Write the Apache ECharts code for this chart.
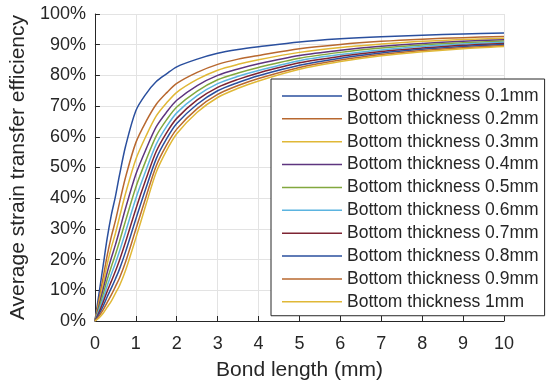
<!DOCTYPE html>
<html>
<head>
<meta charset="utf-8">
<script src="https://cdn.jsdelivr.net/npm/echarts@6/dist/echarts.min.js"></script>
<style>
html,body{margin:0;padding:0;background:#fff;}
#chart{width:550px;height:386px;}
</style>
</head>
<body>
<div id="chart"></div>
<script>
var bondLength = [0, 0.1, 0.2, 0.3, 0.4, 0.5, 0.6, 0.75, 1, 1.25, 1.5, 1.75, 2, 2.5, 3, 3.5, 4, 5, 6, 7, 8, 9, 10];

var t01 = [0, 9, 18, 27, 34.5, 40.5, 47.5, 57, 68.5, 74, 78, 80.5, 82.8, 85.3, 87.2, 88.4, 89.3, 90.9, 91.9, 92.6, 93.1, 93.5, 93.8];
var t02 = [0, 7, 14.1, 21.4, 27.5, 32.6, 38.5, 46.9, 58.1, 65, 70.6, 74.3, 77.4, 81.0, 83.6, 85.3, 86.5, 88.7, 90.1, 91.1, 91.8, 92.3, 92.7];
var t03 = [0, 6.0, 12.1, 18.5, 23.9, 28.5, 33.8, 41.6, 52.7, 60.3, 66.8, 71.0, 74.5, 78.7, 81.7, 83.6, 85.1, 87.5, 89.1, 90.2, 91.1, 91.7, 92.1];
var t04 = [0, 5, 10.3, 15.8, 20.5, 24.8, 29.5, 36.8, 47.8, 56, 63.3, 68, 71.9, 76.7, 80, 82.1, 83.8, 86.5, 88.2, 89.5, 90.4, 91.1, 91.6];
var t05 = [0, 4.2, 8.7, 13.5, 17.7, 21.6, 25.9, 32.7, 43.6, 52.4, 60.3, 65.5, 69.7, 74.9, 78.6, 80.8, 82.6, 85.6, 87.5, 88.9, 89.9, 90.6, 91.2];
var t06 = [0, 3.5, 7.3, 11.5, 15.2, 18.8, 22.7, 29.1, 39.9, 49.2, 57.6, 63.3, 67.8, 73.4, 77.3, 79.7, 81.6, 84.8, 86.8, 88.3, 89.4, 90.2, 90.8];
var t07 = [0, 2.8, 6.1, 9.7, 12.9, 16.2, 19.8, 25.8, 36.5, 46.3, 55.3, 61.3, 66.0, 72.0, 76.1, 78.7, 80.8, 84.1, 86.2, 87.8, 88.9, 89.8, 90.4];
var t08 = [0, 2.2, 4.8, 7.9, 10.7, 13.7, 16.9, 22.6, 33.2, 43.4, 52.9, 59.3, 64.3, 70.6, 75.0, 77.7, 79.9, 83.3, 85.6, 87.3, 88.5, 89.4, 90.1];
var t09 = [0, 1.6, 3.6, 6.1, 8.5, 11.2, 14.0, 19.3, 29.9, 40.5, 50.6, 57.3, 62.5, 69.2, 73.8, 76.7, 79.0, 82.6, 85.0, 86.8, 88.1, 89.0, 89.7];
var t10 = [0, 1, 2.5, 4.5, 6.5, 9, 11.5, 16.5, 27, 38, 48.5, 55.5, 61, 68, 72.8, 75.8, 78.2, 82, 84.5, 86.4, 87.7, 88.7, 89.4];

var seriesNames = ['Bottom thickness 0.1mm','Bottom thickness 0.2mm','Bottom thickness 0.3mm','Bottom thickness 0.4mm','Bottom thickness 0.5mm','Bottom thickness 0.6mm','Bottom thickness 0.7mm','Bottom thickness 0.8mm','Bottom thickness 0.9mm','Bottom thickness 1mm'];
var seriesValues = [t01, t02, t03, t04, t05, t06, t07, t08, t09, t10];
var xTicks = [0,1,2,3,4,5,6,7,8,9,10];
var yTicks = [0,10,20,30,40,50,60,70,80,90,100];

var colors = ['#2A4F9E','#B8682F','#E0B836','#5E357F','#82A83E','#5BB4E0','#7E2433','#2A4F9E','#B8682F','#E0B836'];
var font = "'Liberation Sans', Arial, sans-serif";
var txt = '#262626';

var chart = echarts.init(document.getElementById('chart'), null, {renderer:'canvas'});
var series = seriesNames.map(function(n, i){
  return {
    name: n, type: 'line', symbol: 'none', smooth: 0.3,
    lineStyle: {width: 1.5, color: colors[i]},
    itemStyle: {color: colors[i]},
    data: bondLength.map(function(x, j){ return [x, seriesValues[i][j]]; })
  };
});
chart.setOption({
  animation: false,
  backgroundColor: '#fff',
  grid: {left: 92, right: 46, top: 14, bottom: 62, containLabel: false},
  xAxis: {
    type: 'value', min: xTicks[0], max: xTicks[xTicks.length-1], interval: 1,
    name: 'Bond length (mm)', nameLocation: 'middle', nameGap: 39,
    nameTextStyle: {fontFamily: font, fontSize: 21, color: txt},
    axisLine: {show: true, onZero: false, lineStyle: {color: txt, width: 1}},
    axisTick: {show: true, inside: true, length: 5, lineStyle: {color: txt}},
    axisLabel: {fontFamily: font, fontSize: 18, color: txt, margin: 14},
    splitLine: {show: true, lineStyle: {color: '#e3e3e3', width: 1}}
  },
  yAxis: {
    type: 'value', min: yTicks[0], max: yTicks[yTicks.length-1], interval: 10,
    name: 'Average strain transfer efficiency', nameLocation: 'middle', nameGap: 63, nameRotate: 90,
    nameTextStyle: {fontFamily: font, fontSize: 21, color: txt},
    axisLine: {show: true, onZero: false, lineStyle: {color: txt, width: 1}},
    axisTick: {show: true, inside: true, length: 5, lineStyle: {color: txt}},
    axisLabel: {fontFamily: font, fontSize: 18, color: txt, margin: 9, formatter: '{value}%'},
    splitLine: {show: true, lineStyle: {color: '#e3e3e3', width: 1}}
  },
  legend: {
    orient: 'vertical', left: 271, top: 79,
    data: seriesNames,
    icon: 'rect', itemWidth: 60, itemHeight: 1.5, itemGap: 2.86,
    padding: [7, 6, 4, 11],
    backgroundColor: '#fff', borderColor: txt, borderWidth: 1,
    textStyle: {fontFamily: font, fontSize: 17.5, color: txt, lineHeight: 20},
    selectedMode: false
  },
  series: series
});
</script>
</body>
</html>
